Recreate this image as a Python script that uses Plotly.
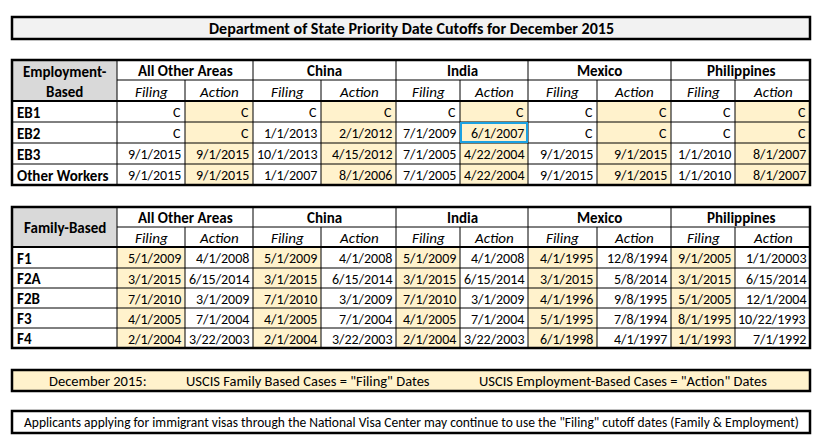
import plotly.graph_objects as go

# ---- data -------------------------------------------------------------
title = "Department of State Priority Date Cutoffs for December 2015"
countries = ["All Other Areas", "China", "India", "Mexico", "Philippines"]
sub_headers = ["Filing", "Action"]

emp_rows = ["EB1", "EB2", "EB3", "Other Workers"]
eb1 = ["C", "C", "C", "C", "C", "C", "C", "C", "C", "C"]
eb2 = ["C", "C", "1/1/2013", "2/1/2012", "7/1/2009", "6/1/2007", "C", "C", "C", "C"]
eb3 = ["9/1/2015", "9/1/2015", "10/1/2013", "4/15/2012", "7/1/2005", "4/22/2004",
       "9/1/2015", "9/1/2015", "1/1/2010", "8/1/2007"]
other_workers = ["9/1/2015", "9/1/2015", "1/1/2007", "8/1/2006", "7/1/2005", "4/22/2004",
                 "9/1/2015", "9/1/2015", "1/1/2010", "8/1/2007"]

fam_rows = ["F1", "F2A", "F2B", "F3", "F4"]
f1 = ["5/1/2009", "4/1/2008", "5/1/2009", "4/1/2008", "5/1/2009", "4/1/2008",
      "4/1/1995", "12/8/1994", "9/1/2005", "1/1/20003"]
f2a = ["3/1/2015", "6/15/2014", "3/1/2015", "6/15/2014", "3/1/2015", "6/15/2014",
       "3/1/2015", "5/8/2014", "3/1/2015", "6/15/2014"]
f2b = ["7/1/2010", "3/1/2009", "7/1/2010", "3/1/2009", "7/1/2010", "3/1/2009",
       "4/1/1996", "9/8/1995", "5/1/2005", "12/1/2004"]
f3 = ["4/1/2005", "7/1/2004", "4/1/2005", "7/1/2004", "4/1/2005", "7/1/2004",
      "5/1/1995", "7/8/1994", "8/1/1995", "10/22/1993"]
f4 = ["2/1/2004", "3/22/2003", "2/1/2004", "3/22/2003", "2/1/2004", "3/22/2003",
      "6/1/1998", "4/1/1997", "1/1/1993", "7/1/1992"]

footer_parts = ["December 2015:", 'USCIS Family Based Cases = "Filing" Dates',
                'USCIS Employment-Based Cases = "Action" Dates']
note = ('Applicants applying for immigrant visas through the National Visa Center '
        'may continue to use the "Filing" cutoff dates (Family & Employment)')

# ---- layout constants (pixel grid of the sheet) -----------------------
COLS = [12, 117, 185, 253, 321, 396, 460, 528, 597, 671, 735, 810]
EMP_Y = [60, 80, 101, 122, 143, 164, 185]
FAM_Y = [207, 227, 247, 268, 288, 308, 328, 348]
FONT = "Calibri, Carlito, Lato, sans-serif"
SHADE = "#fff2cc"
GRAY = "#d9d9d9"

shapes = []
annotations = []


def rect(x0, y0, x1, y1, fill=None, width=0, color="black"):
    shapes.append(dict(type="rect", x0=x0, y0=y0, x1=x1, y1=y1, layer="below" if width == 0 else "above",
                       fillcolor=fill if fill else "rgba(0,0,0,0)",
                       line=dict(width=width, color=color)))


def line(x0, y0, x1, y1, width=1):
    shapes.append(dict(type="line", x0=x0, y0=y0, x1=x1, y1=y1, line=dict(width=width, color="black")))


def text(x, y, s, anchor="center", size=14):
    annotations.append(dict(x=x, y=y, text=s, showarrow=False, xanchor=anchor, yanchor="middle",
                            font=dict(family=FONT, size=size, color="black")))


def block(label, row_names, rows, ys, shade_col):
    top, mid, hdr = ys[0], ys[1], ys[2]
    # fills
    rect(COLS[0], top, COLS[1], hdr, fill=GRAY)
    for r in range(len(rows)):
        for c in range(10):
            if c % 2 == shade_col:
                rect(COLS[c + 1], ys[r + 2], COLS[c + 2], ys[r + 3], fill=SHADE)
    # grid
    line(COLS[1], mid, COLS[-1], mid)
    for y in ys[3:-1]:
        line(COLS[0], y, COLS[-1], y)
    line(COLS[0], hdr, COLS[-1], hdr, 2)
    for i, x in enumerate(COLS[1:-1]):
        y_start = top if i % 2 == 0 else mid
        line(x, y_start, x, ys[-1])
    rect(COLS[0], top, COLS[-1], ys[-1], width=2.5)
    # header text
    text((COLS[0] + COLS[1]) / 2, (top + hdr) / 2 + 1, label, size=15)
    for k, name in enumerate(countries):
        text((COLS[2 * k + 1] + COLS[2 * k + 3]) / 2, (top + mid) / 2 + 1, "<b>%s</b>" % name, size=15)
        for j, sub in enumerate(sub_headers):
            text((COLS[2 * k + 1 + j] + COLS[2 * k + 2 + j]) / 2, (mid + hdr) / 2 + 1,
                 "<i>%s</i>" % sub, size=15)
    # body
    for r, (name, vals) in enumerate(zip(row_names, rows)):
        yc = (ys[r + 2] + ys[r + 3]) / 2 + 1
        text(COLS[0] + 3, yc, "<b>%s</b>" % name, anchor="left", size=15)
        for c, v in enumerate(vals):
            text(COLS[c + 2] - 2, yc, v, anchor="right")


# title box
rect(COLS[0], 17, COLS[-1], 39, fill="#f2f2f2")
rect(COLS[0], 17, COLS[-1], 39, width=2.5)
text(411, 28, "<b>%s</b>" % title, size=16)

block("<b>Employment-</b><br><b>Based</b>", emp_rows, [eb1, eb2, eb3, other_workers], EMP_Y, 1)
block("<b>Family-Based</b>", fam_rows, [f1, f2a, f2b, f3, f4], FAM_Y, 0)

# selected cell outline (India / Action / EB2)
rect(COLS[6] + 1, EMP_Y[3] + 1, COLS[7] - 1, EMP_Y[4] - 1, width=2, color="#1ba1e2")

# footer boxes
rect(COLS[0], 370, COLS[-1], 391, fill=SHADE)
rect(COLS[0], 370, COLS[-1], 391, width=2.5)
for x, s in zip([47, 184, 477], footer_parts):
    text(x, 381, s, anchor="left", size=14.5)

rect(COLS[0], 411, COLS[-1], 433, width=2.5)
text(411, 422, note, size=13.5)

fig = go.Figure()
fig.update_layout(
    width=822, height=444,
    margin=dict(l=0, r=0, t=0, b=0),
    paper_bgcolor="white", plot_bgcolor="white",
    xaxis=dict(range=[0, 822], visible=False, fixedrange=True),
    yaxis=dict(range=[444, 0], visible=False, fixedrange=True),
    shapes=shapes, annotations=annotations,
    showlegend=False,
)
fig.write_html("out.html", config={"displayModeBar": False},
               post_script="document.body.style.margin='0';")
